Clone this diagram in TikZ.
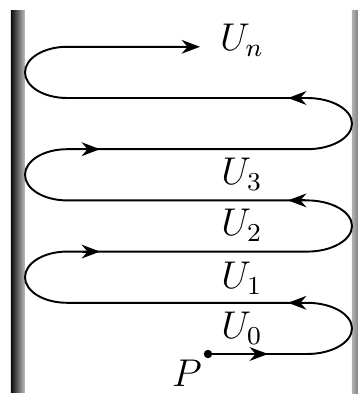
\documentclass[tikz,border=0pt]{standalone}
\usetikzlibrary{arrows.meta}
\begin{document}
\begin{tikzpicture}[x=0.31pt, y=0.31pt, semithick,
  wall/.style={left color=black!95, right color=black!25},
  rwall/.style={left color=black!30, right color=black!75},
  lab/.style={font=\large}]
\useasboundingbox (0,0) rectangle (358,398);
\clip (0,0) rectangle (358,398);
% walls
\shade[wall] (11,6) rectangle (25,388);
\shade[rwall] (352,5) rectangle (366,388);
% the path
\node[circle, fill, inner sep=0pt, minimum size=2.6pt] (P) at (208,44) {};
\node[lab] (labP) at (187,25) {$P$};
\draw[-Stealth] (P.center) -- (307,44)
  arc[start angle=-90, end angle=90, x radius=45, y radius=25.6] -- (67,95.2)
  arc[start angle=270, end angle=90, x radius=42, y radius=25.6] -- (307,146.4)
  arc[start angle=-90, end angle=90, x radius=45, y radius=25.6] -- (67,197.6)
  arc[start angle=270, end angle=90, x radius=42, y radius=25.6] -- (307,248.8)
  arc[start angle=-90, end angle=90, x radius=45, y radius=25.6] -- (67,300)
  arc[start angle=270, end angle=90, x radius=42, y radius=25.6] -- (200,351.2);
% arrows on the way
\draw[-Stealth] (250,44) -- (268,44);
\foreach \y in {95.2,197.6,300}
  \draw[-Stealth] (305,\y) -- (288,\y);
\foreach \y in {146.4,248.8}
  \draw[-Stealth] (82,\y) -- (100,\y);
% labels
\node[lab] (u0) at (242,70) {$U_0$};
\node[lab] (u1) at (242,120) {$U_1$};
\node[lab] (u2) at (242,173) {$U_2$};
\node[lab] (u3) at (242,224) {$U_3$};
\node[lab] (un) at (242,358) {$U_n$};
\end{tikzpicture}
\end{document}
